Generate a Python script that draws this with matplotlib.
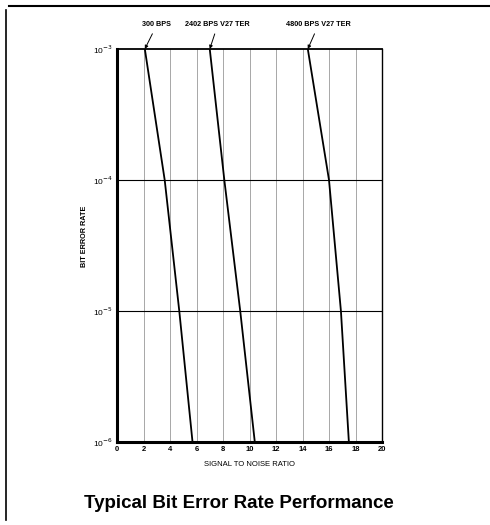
import matplotlib
matplotlib.use("Agg")
import matplotlib.pyplot as plt
from matplotlib.lines import Line2D

plt.rcParams['font.family'] = ['Liberation Sans', 'DejaVu Sans']

# Data
ber_levels = [1e-3, 1e-4, 1e-5, 1e-6]
snr_300 = [2.1, 3.6, 4.7, 5.7]
snr_2402 = [7.0, 8.1, 9.3, 10.4]
snr_4800 = [14.4, 16.0, 16.9, 17.5]
series_labels = ["300 BPS", "2402 BPS V27 TER", "4800 BPS V27 TER"]
label_x = [3.0, 7.6, 15.2]
x_ticks = list(range(0, 21, 2))
y_ticks = [1e-3, 1e-4, 1e-5, 1e-6]
y_tick_labels = ["10$^{-3}$", "10$^{-4}$", "10$^{-5}$", "10$^{-6}$"]

fig = plt.figure(figsize=(4.9, 5.25), dpi=100)
ax = fig.add_axes([117/490, 1-442/525, 265/490, 393/525])

ax.set_yscale('log')
ax.set_xlim(0, 20)
ax.set_ylim(1e-6, 1e-3)

for xv in x_ticks[1:-1]:
    ax.axvline(xv, color='#999999', lw=0.6, zorder=1)
for yv in [1e-4, 1e-5]:
    ax.axhline(yv, color='black', lw=0.8, zorder=1)

for s in (snr_300, snr_2402, snr_4800):
    ax.plot(s, ber_levels, color='black', lw=1.3, zorder=3)

for lab, lx, s in zip(series_labels, label_x, (snr_300, snr_2402, snr_4800)):
    ax.annotate(lab, xy=(s[0], 1e-3), xytext=(lx, 1e-3 * 10**(24/131)),
                ha='center', va='center', fontsize=5.2, fontweight='bold',
                arrowprops=dict(arrowstyle='-|>', color='black', lw=0.7,
                                mutation_scale=5, shrinkA=2, shrinkB=0),
                annotation_clip=False)

ax.set_xticks(x_ticks)
ax.set_xticklabels([str(v) for v in x_ticks], fontsize=5.5, fontweight='bold')
ax.set_yticks(y_ticks)
ax.set_yticklabels(y_tick_labels, fontsize=6)
ax.minorticks_off()
ax.tick_params(length=0, pad=3)

ax.set_xlabel("SIGNAL TO NOISE RATIO", fontsize=5.5, labelpad=6)
ax.set_ylabel("BIT ERROR RATE", fontsize=5.2, fontweight='bold')
ax.yaxis.set_label_coords((88-117)/265, (442-236)/393)

ax.spines['left'].set_linewidth(2.2)
ax.spines['bottom'].set_linewidth(2.2)
ax.spines['top'].set_linewidth(1.3)
ax.spines['right'].set_linewidth(1.0)

fig.text(239/490, 1-504/525, "Typical Bit Error Rate Performance",
         ha='center', va='center', fontsize=13.5, fontweight='bold')

fig.add_artist(Line2D([9/490, 1.0], [1-5.5/525, 1-5.5/525], color='black', lw=1.5,
                      transform=fig.transFigure))
fig.add_artist(Line2D([6/490, 6/490], [1-10/525, 1-520/525], color='black', lw=1.2,
                      transform=fig.transFigure))

fig.savefig("out.png", dpi=100)
